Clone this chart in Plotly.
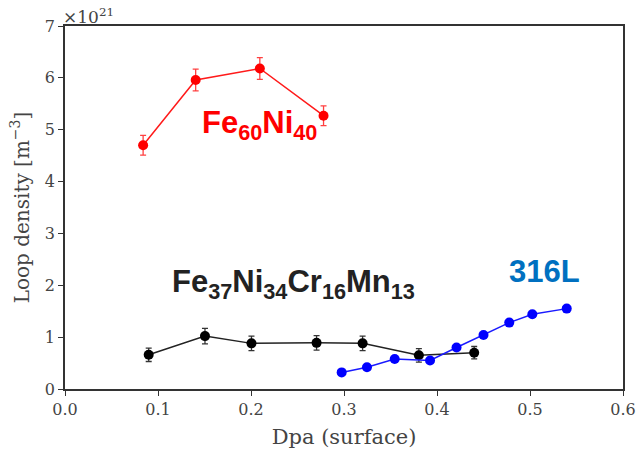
import plotly.graph_objects as go

# Fe60Ni40
fe_ni_x = [0.084, 0.1405, 0.2095, 0.278]
fe_ni_y = [4.70, 5.96, 6.18, 5.27]
fe_ni_err = [0.19, 0.21, 0.21, 0.19]

# Fe37Ni34Cr16Mn13
hea_x = [0.090, 0.1505, 0.2005, 0.2705, 0.320, 0.3805, 0.440]
hea_y = [0.66, 1.02, 0.88, 0.89, 0.88, 0.65, 0.70]
hea_err = [0.13, 0.15, 0.14, 0.14, 0.14, 0.13, 0.12]

# 316L
ss_x = [0.2975, 0.3247, 0.3545, 0.3925, 0.421, 0.450, 0.4777, 0.5025, 0.5395]
ss_y = [0.32, 0.42, 0.58, 0.55, 0.80, 1.04, 1.28, 1.44, 1.55]

x_ticks = [0.0, 0.1, 0.2, 0.3, 0.4, 0.5, 0.6]
y_ticks = [0, 1, 2, 3, 4, 5, 6, 7]

serif = "DejaVu Serif"
sans = "Liberation Sans"

fig = go.Figure()
fig.add_trace(go.Scatter(
    x=fe_ni_x, y=fe_ni_y, mode="lines+markers",
    line=dict(color="#ff1a1a", width=1.5),
    marker=dict(color="#ff0000", size=10),
    error_y=dict(type="data", array=fe_ni_err, color="#ff4040", thickness=1.3, width=3),
    showlegend=False))
fig.add_trace(go.Scatter(
    x=hea_x, y=hea_y, mode="lines+markers",
    line=dict(color="#222222", width=1.5),
    marker=dict(color="#000000", size=10),
    error_y=dict(type="data", array=hea_err, color="#333333", thickness=1.3, width=3),
    showlegend=False))
fig.add_trace(go.Scatter(
    x=ss_x, y=ss_y, mode="lines+markers",
    line=dict(color="#1a1aff", width=1.5),
    marker=dict(color="#0000ff", size=10),
    showlegend=False))

fig.add_annotation(x=0.2086, y=5.1, xref="x", yref="y",
                   text="<b>Fe<sub>60</sub>Ni<sub>40</sub></b>", showarrow=False,
                   font=dict(family=sans, size=31, color="#ff0000"))
fig.add_annotation(x=0.2457, y=2.03, xref="x", yref="y",
                   text="<b>Fe<sub>37</sub>Ni<sub>34</sub>Cr<sub>16</sub>Mn<sub>13</sub></b>",
                   showarrow=False,
                   font=dict(family=sans, size=31, color="#222222"))
fig.add_annotation(x=0.5156, y=2.27, xref="x", yref="y",
                   text="<b>316L</b>", showarrow=False,
                   font=dict(family=sans, size=31, color="#0070c0"))
fig.add_annotation(x=0.0, y=1.0, xref="paper", yref="paper", xanchor="left", yanchor="bottom",
                   text="×10<sup>21</sup>", showarrow=False, xshift=-4, yshift=-3,
                   font=dict(family=serif, size=17, color="#444444"))

axis_common = dict(showgrid=False, zeroline=False, showline=True, linecolor="#333333",
                   linewidth=1.5, mirror=True, ticks="outside", ticklen=5, tickwidth=1.3,
                   tickcolor="#333333", automargin=False,
                   tickfont=dict(family=serif, size=16, color="#444444"))

fig.update_xaxes(range=[0, 0.6], tickvals=x_ticks,
                 ticktext=[f"{v:.1f}" for v in x_ticks],
                 title=dict(text="Dpa (surface)", font=dict(family=serif, size=21, color="#444444"),
                            standoff=11),
                 **axis_common)
fig.update_yaxes(range=[0, 7], tickvals=y_ticks,
                 title=dict(text="Loop density [m<sup>−3</sup>]",
                            font=dict(family=serif, size=20, color="#444444"), standoff=10),
                 **axis_common)

fig.update_layout(width=638, height=454, margin=dict(l=65, r=15, t=26, b=65, autoexpand=False),
                  plot_bgcolor="white", paper_bgcolor="white")

fig.write_html("out.html", config={"displayModeBar": False},
               post_script="document.body.style.margin='0';document.body.style.padding='0';")
